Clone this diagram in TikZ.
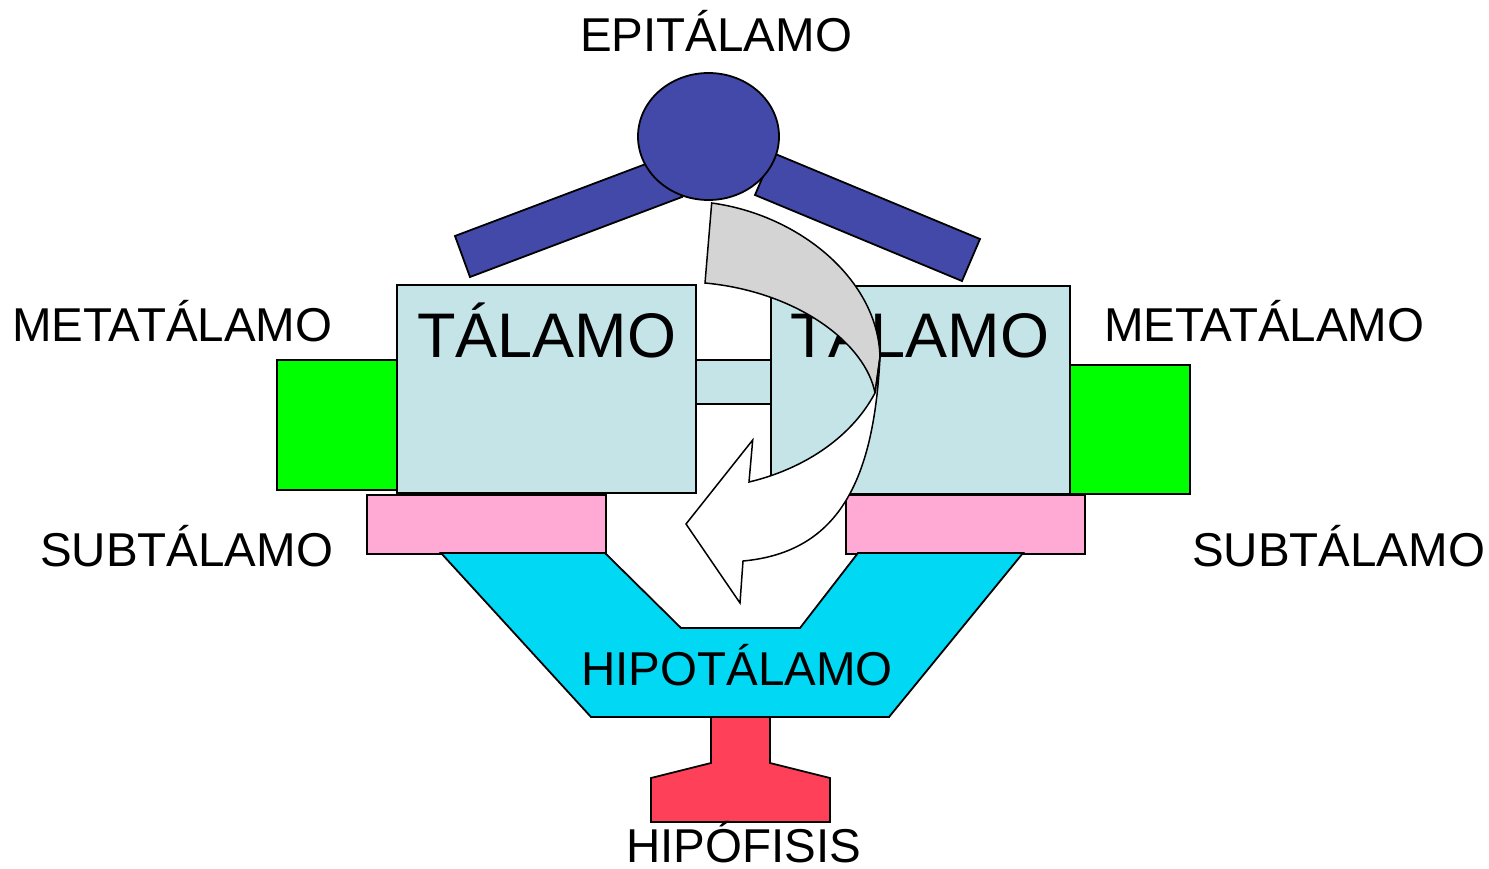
\documentclass[tikz,border=0pt]{standalone}
\usepackage{fontspec}
\setmainfont{Liberation Sans}
\usetikzlibrary{shapes.geometric}
\definecolor{epiblue}{RGB}{67,73,168}
\definecolor{talcol}{RGB}{196,228,232}
\definecolor{metagreen}{RGB}{0,255,0}
\definecolor{subpink}{RGB}{255,170,212}
\definecolor{hipocyan}{RGB}{0,216,244}
\definecolor{hipored}{RGB}{255,64,89}
\definecolor{backgray}{RGB}{212,212,212}
\begin{document}
\begin{tikzpicture}[x=1pt,y=-1pt,line join=miter,
  outl/.style={draw=black,line width=1.8pt},
  box/.style={outl,rectangle,inner sep=0pt,anchor=north west},
  lbl/.style={anchor=base west,inner sep=0pt,font=\fontsize{47.5}{56}\selectfont},
  big/.style={anchor=base west,inner sep=0pt,font=\fontsize{63}{74}\selectfont}]
\useasboundingbox (0,0) rectangle (1489,869);
% epitalamo
\filldraw[outl,fill=epiblue] (455,236) -- (470,277) -- (682,197) -- (667,156) -- cycle;
\filldraw[outl,fill=epiblue] (773,153) -- (755,195) -- (962,281) -- (980,239) -- cycle;
\node[outl,ellipse,fill=epiblue,minimum width=141pt,minimum height=127pt,inner sep=0pt] (epi) at (708.5,136.5) {};
% metatalamo
\node[box,fill=metagreen,minimum width=120pt,minimum height=130pt] (mgl) at (276,359) {};
\node[box,fill=metagreen,minimum width=120pt,minimum height=129pt] (mgr) at (1069,364) {};
% adhesion
\node[box,fill=talcol,minimum width=75pt,minimum height=44pt] (adh) at (695,359) {};
% talamo
\node[box,fill=talcol,minimum width=299pt,minimum height=208pt] (tl) at (396,284) {};
\node[box,fill=talcol,minimum width=299pt,minimum height=208pt] (tr) at (770,285) {};
% subtalamo
\node[box,fill=subpink,minimum width=239pt,minimum height=59pt] (sl) at (366,494) {};
\node[box,fill=subpink,minimum width=239pt,minimum height=59pt] (sr) at (845,494) {};
% hipotalamo
\filldraw[outl,fill=hipocyan] (441,553) -- (605,553) -- (681,628) -- (800,628) -- (858,553) -- (1023,553) -- (889,717) -- (591,717) -- cycle;
% hipofisis
\filldraw[outl,fill=hipored] (711,717) -- (711,763) -- (651,778) -- (651,822) -- (830,822) -- (830,778) -- (770,763) -- (770,717) -- cycle;
% texts
\node[big] (ttl) at (417,357) {TÁLAMO};
\node[big] (ttr) at (790,357) {TÁLAMO};
% curved arrow
\filldraw[outl,line width=1.5pt,fill=backgray] (711.7,203) .. controls (800,215) and (878,280) .. (880,357) -- (875,393) .. controls (866,345) and (800,292) .. (705,283) -- cycle;
\filldraw[outl,line width=1.5pt,fill=white] (880,357) .. controls (874,475) and (842,552) .. (743,561) -- (740,603) -- (686,524) -- (752.7,440) -- (749,482) .. controls (800,470) and (850,440) .. (875,393) -- cycle;
% labels
\node[lbl] (lepi) at (580,52) {EPITÁLAMO};
\node[lbl] (lmetal) at (12,341) {METATÁLAMO};
\node[lbl] (lmetar) at (1104,341) {METATÁLAMO};
\node[lbl] (lsubl) at (40,566) {SUBTÁLAMO};
\node[lbl] (lsubr) at (1192,566) {SUBTÁLAMO};
\node[lbl] (lhipot) at (581,685) {HIPOTÁLAMO};
\node[lbl] (lhipof) at (626,862) {HIPÓFISIS};
\end{tikzpicture}
\end{document}
